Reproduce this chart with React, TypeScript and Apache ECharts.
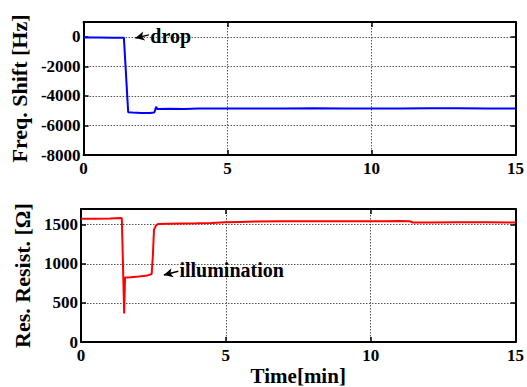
import React, { useEffect, useRef } from "react";
import * as echarts from "echarts";

// Top panel: frequency shift [Hz] vs time [min]
const freqTime = [0, 0.5, 1.0, 1.4, 1.55, 1.7, 2.0, 2.3, 2.45, 2.48, 2.52, 2.56, 2.6, 3.0, 3.5, 4, 5, 6, 7, 8, 9, 10, 11, 12, 13, 14, 15];
const freqShift = [-50, -50, -60, -60, -5100, -5120, -5150, -5160, -5130, -5000, -4740, -4890, -4880, -4870, -4880, -4860, -4850, -4860, -4850, -4840, -4860, -4850, -4850, -4840, -4835, -4860, -4850];

// Bottom panel: resistance [Ohm] vs time [min]
const resTime = [0, 0.5, 1.0, 1.38, 1.41, 1.49, 1.52, 1.7, 2.0, 2.3, 2.44, 2.48, 2.52, 2.6, 2.67, 3.0, 3.5, 4, 4.5, 5, 5.5, 6, 7, 8, 9, 10, 10.5, 11.0, 11.35, 11.45, 12, 13, 14, 15];
const resValue = [1575, 1575, 1578, 1585, 1580, 366, 825, 828, 838, 852, 870, 1100, 1437, 1495, 1510, 1512, 1515, 1518, 1522, 1530, 1535, 1540, 1542, 1545, 1545, 1545, 1542, 1548, 1545, 1528, 1528, 1530, 1532, 1528];

const xTicks = { min: 0, max: 15, interval: 5 };
const freqAxis = { min: -8000, max: 1000, interval: 2000 };
const resAxis = { min: 0, max: 1700, interval: 500 };

const FONT = "Liberation Serif";

export default function App() {
  const ref = useRef<HTMLDivElement>(null);
  useEffect(() => {
    if (!ref.current) return;
    const chart = echarts.init(ref.current, undefined, { renderer: "svg" });
    const axisLine = { show: true, lineStyle: { color: "#000", width: 2 } };
    const tick = { show: true, inside: true, length: 5, lineStyle: { color: "#000", width: 1.5 } };
    const grid = { show: true, lineStyle: { color: "#555", type: [1.5, 1.5] as any, width: 1 } };
    const lab = { color: "#000", fontFamily: FONT, fontWeight: "bold" as const, fontSize: 17 };
    const fmt = (v: number) => String(v);
    const nameStyle = { color: "#000", fontFamily: FONT, fontWeight: "bold" as const, fontSize: 22 };

    const xA = (gridIndex: number, position: "top" | "bottom", primary: boolean, extra: any = {}) => ({
      type: "value",
      gridIndex,
      position,
      ...xTicks,
      axisLine: { ...axisLine, onZero: false },
      axisTick: tick,
      axisLabel: primary
        ? { show: true, ...lab, margin: 5, formatter: fmt, textStyle: lab }
        : { show: false },
      splitLine: primary ? grid : { show: false },
      ...extra,
    });
    const yA = (gridIndex: number, position: "left" | "right", primary: boolean, rng: any, extra: any = {}) => ({
      type: "value",
      gridIndex,
      position,
      ...rng,
      axisLine: { ...axisLine, onZero: false },
      axisTick: tick,
      axisLabel: primary
        ? { show: true, ...lab, margin: 3, formatter: fmt, textStyle: lab }
        : { show: false },
      splitLine: primary ? grid : { show: false },
      ...extra,
    });

    const arrowLine = { color: "#000", width: 1.5, type: "solid" as const };
    const annText = (text: string) => ({
      show: true,
      position: "right" as const,
      distance: 0,
      formatter: text,
      color: "#000",
      fontFamily: FONT,
      fontWeight: "bold" as const,
      fontSize: 20,
    });

    chart.setOption({
      animation: false,
      backgroundColor: "#fff",
      textStyle: { fontFamily: FONT, fontWeight: "bold", fontSize: 17, color: "#000" },
      grid: [
        { left: 81, right: 10, top: 22, height: 133, containLabel: false },
        { left: 81, right: 10, top: 209, height: 135, containLabel: false },
      ],
      xAxis: [
        xA(0, "bottom", true),
        xA(0, "top", false),
        xA(1, "bottom", true, {
          name: "Time[min]",
          nameLocation: "middle",
          nameGap: 19,
          nameTextStyle: { ...nameStyle, fontSize: 21 },
        }),
        xA(1, "top", false),
      ],
      yAxis: [
        yA(0, "left", true, freqAxis, {
          name: "Freq. Shift [Hz]",
          nameLocation: "middle",
          nameRotate: 90,
          nameGap: 49,
          nameTextStyle: nameStyle,
        }),
        yA(0, "right", false, freqAxis),
        yA(1, "left", true, resAxis, {
          name: "Res. Resist. [Ω]",
          nameLocation: "middle",
          nameRotate: 90,
          nameGap: 44,
          nameTextStyle: nameStyle,
        }),
        yA(1, "right", false, resAxis),
      ],
      series: [
        {
          type: "line",
          xAxisIndex: 0,
          yAxisIndex: 0,
          showSymbol: false,
          data: freqTime.map((t, i) => [t, freqShift[i]]),
          lineStyle: { color: "#0000ff", width: 2 },
          itemStyle: { color: "#0000ff" },
          markLine: {
            silent: true,
            symbol: ["none", "arrow"],
            symbolSize: [7, 9],
            label: { show: false },
            lineStyle: arrowLine,
            data: [[{ coord: [2.27, 130] }, { coord: [1.8, -80] }]],
          },
          markPoint: {
            silent: true,
            symbol: "rect",
            symbolSize: 1,
            itemStyle: { color: "rgba(0,0,0,0)" },
            data: [{ coord: [2.3, 50], label: annText("drop") }],
          },
        },
        {
          type: "line",
          xAxisIndex: 2,
          yAxisIndex: 2,
          showSymbol: false,
          data: resTime.map((t, i) => [t, resValue[i]]),
          lineStyle: { color: "#ff0000", width: 2 },
          itemStyle: { color: "#ff0000" },
          markLine: {
            silent: true,
            symbol: ["none", "arrow"],
            symbolSize: [7, 9],
            label: { show: false },
            lineStyle: arrowLine,
            data: [[{ coord: [3.36, 905] }, { coord: [2.86, 858] }]],
          },
          markPoint: {
            silent: true,
            symbol: "rect",
            symbolSize: 1,
            itemStyle: { color: "rgba(0,0,0,0)" },
            data: [{ coord: [3.38, 915], label: annText("illumination") }],
          },
        },
      ],
    });
    return () => chart.dispose();
  }, []);
  return (
    <div
      ref={ref}
      style={{ position: "fixed", left: 0, top: 0, width: 527, height: 387, background: "#fff" }}
    />
  );
}
